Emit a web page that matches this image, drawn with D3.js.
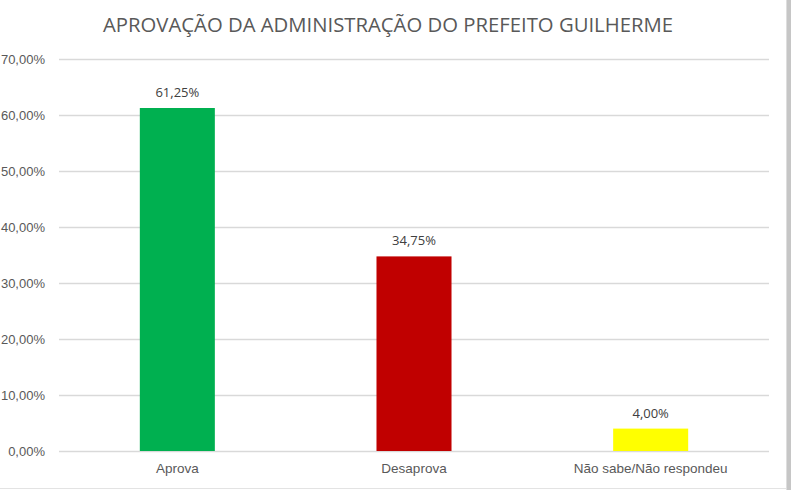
<!DOCTYPE html>
<html>
<head>
<meta charset="utf-8">
<script src="https://cdn.jsdelivr.net/npm/d3@7"></script>
<style>
  body { margin: 0; background: #fff; }
  svg { display: block; font-family: "Open Sans", "Noto Sans", sans-serif; }
</style>
</head>
<body>
<svg id="chart" width="791" height="490"></svg>
<script>
const title = "APROVAÇÃO DA ADMINISTRAÇÃO DO PREFEITO GUILHERME";
const categories = ["Aprova", "Desaprova", "Não sabe/Não respondeu"];
const values = [61.25, 34.75, 4.00];
const colors = ["#00b050", "#c00000", "#ffff00"];
const yTicks = [0, 10, 20, 30, 40, 50, 60, 70];

const margin = {top: 59, right: 22, bottom: 39, left: 59};

const svg = d3.select("#chart");
const width = +svg.attr("width");
const height = +svg.attr("height");
const contentWidth = width - margin.left - margin.right;
const contentHeight = height - margin.top - margin.bottom;

const fmt = v => d3.format(".2f")(v).replace(".", ",") + "%";

// frame edges like the screenshot
svg.append("line")
  .attr("x1", 0).attr("x2", width - 5)
  .attr("y1", 488.5).attr("y2", 488.5)
  .attr("stroke", "#e3e3e3").attr("stroke-width", 1);
svg.append("rect")
  .attr("x", 786).attr("y", 0).attr("width", 5).attr("height", height)
  .attr("fill", "#c6c6c6");
svg.append("line")
  .attr("x1", 786.5).attr("x2", 786.5).attr("y1", 0).attr("y2", height)
  .attr("stroke", "#dedede");

svg.append("text")
  .attr("x", 388).attr("y", 32)
  .attr("text-anchor", "middle")
  .attr("font-size", 20)
  .attr("textLength", 570)
  .attr("lengthAdjust", "spacingAndGlyphs")
  .attr("fill", "#595959")
  .text(title);

const g = svg.append("g").attr("transform", `translate(${margin.left},${margin.top})`);

const x = d3.scaleBand().domain(categories).range([0, contentWidth])
  .paddingInner(0.683).paddingOuter(0.3415);
const y = d3.scaleLinear().domain([0, 70]).range([contentHeight, 0]);

// gridlines + y labels
const yAxis = g.append("g")
  .call(d3.axisLeft(y).tickValues(yTicks).tickSize(-contentWidth).tickPadding(14).tickFormat(fmt));
yAxis.select(".domain").remove();
yAxis.selectAll(".tick line").attr("stroke", "#d9d9d9").attr("stroke-width", 1.3);
yAxis.selectAll(".tick text")
  .attr("fill", "#595959").attr("font-size", 13).attr("font-family", null);

g.selectAll(".bar").data(values).enter().append("rect")
  .attr("class", "bar")
  .attr("x", (d, i) => x(categories[i]))
  .attr("width", x.bandwidth())
  .attr("y", d => y(d))
  .attr("height", d => contentHeight - y(d))
  .attr("fill", (d, i) => colors[i]);

g.selectAll(".val").data(values).enter().append("text")
  .attr("class", "val")
  .attr("x", (d, i) => x(categories[i]) + x.bandwidth() / 2)
  .attr("y", d => y(d) - 11)
  .attr("text-anchor", "middle")
  .attr("font-size", 13)
  .attr("fill", "#404040")
  .text(d => fmt(d));

const xAxis = g.append("g")
  .attr("transform", `translate(0,${contentHeight})`)
  .call(d3.axisBottom(x).tickSize(0).tickPadding(12));
xAxis.select(".domain").remove();
xAxis.selectAll(".tick text")
  .attr("fill", "#595959").attr("font-size", 13.5).attr("font-family", null);
</script>
</body>
</html>
